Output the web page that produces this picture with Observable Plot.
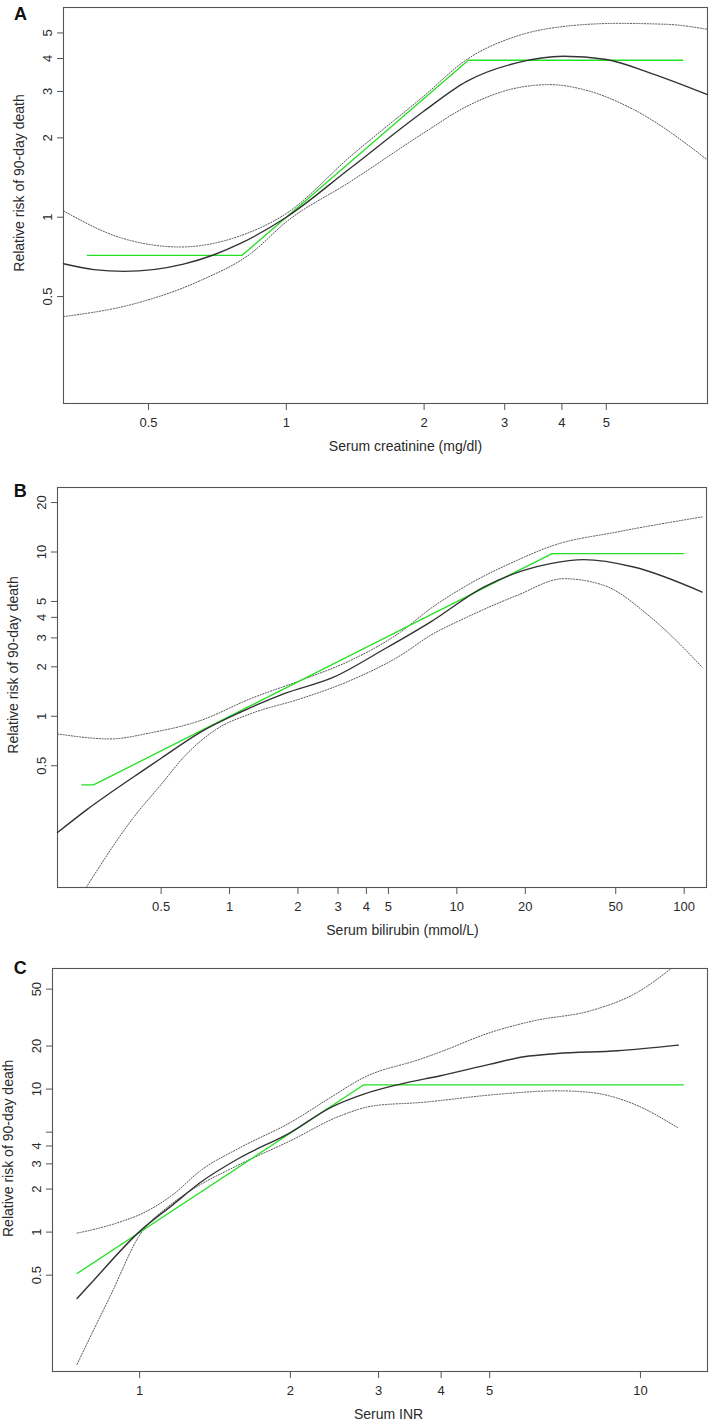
<!DOCTYPE html>
<html>
<head>
<meta charset="utf-8">
<script src="https://cdn.jsdelivr.net/npm/d3@7"></script>
<script src="https://cdn.jsdelivr.net/npm/@observablehq/plot@0.6"></script>
<style>
  body { margin: 0; background: #fff; }
  #wrap { position: relative; width: 709px; height: 1423px; background: #fff; overflow: hidden; }
  .panel { position: absolute; left: 0; }
</style>
</head>
<body>
<div id="wrap"></div>
<script>
// ---------- shared text ----------
const yTitle = "Relative risk of 90-day death";

// ---------- Panel A: serum creatinine ----------
const aLetter = "A";
const aXTitle = "Serum creatinine (mg/dl)";
const aXTicks = [0.5, 1, 2, 3, 4, 5];
const aXTickLabels = ["0.5", "1", "2", "3", "4", "5"];
const aYTicks = [0.5, 1, 2, 3, 4, 5];
const aYTickLabels = ["0.5", "1", "2", "3", "4", "5"];
const aFitX = [0.326, 0.38, 0.442, 0.596, 0.693, 0.794, 1, 1.379, 1.993, 2.478, 3.186, 4.026, 5.006, 6.22, 8.32];
const aFitY = [0.666, 0.633, 0.623, 0.664, 0.719, 0.795, 1, 1.533, 2.518, 3.277, 3.851, 4.08, 3.964, 3.527, 2.916];
const aUpperX = [0.326, 0.4335, 0.587, 0.793, 1, 1.379, 1.993, 2.478, 3.186, 4.11, 5.29, 6.8, 8.32];
const aUpperY = [1.057, 0.837, 0.771, 0.85, 1.033, 1.697, 2.873, 3.964, 4.863, 5.31, 5.436, 5.39, 5.16];
const aLowerX = [0.326, 0.4645, 0.649, 0.835, 1, 1.379, 1.993, 2.478, 3.186, 3.765, 4.47, 5.75, 8.32];
const aLowerY = [0.4196, 0.469, 0.575, 0.727, 0.96, 1.363, 2.084, 2.632, 3.093, 3.184, 3.047, 2.556, 1.649];
const aStepX = [0.3675, 0.8006, 2.498, 7.355];
const aStepY = [0.717, 0.717, 3.94, 3.94];

// ---------- Panel B: serum bilirubin ----------
const bLetter = "B";
const bXTitle = "Serum bilirubin (mmol/L)";
const bXTicks = [0.5, 1, 2, 3, 4, 5, 10, 20, 50, 100];
const bXTickLabels = ["0.5", "1", "2", "3", "4", "5", "10", "20", "50", "100"];
const bYTicks = [0.5, 1, 2, 3, 4, 5, 10, 20];
const bYTickLabels = ["0.5", "1", "2", "3", "4", "5", "10", "20"];
const bFitX = [0.175, 0.2357, 0.4477, 0.502, 0.743, 1.115, 1.729, 2.869, 4.763, 7.645, 13.12, 19.68, 25.79, 36.15, 60.0, 120];
const bFitY = [0.196, 0.27, 0.5004, 0.5575, 0.799, 1.058, 1.369, 1.729, 2.55, 3.743, 6.116, 7.735, 8.498, 8.989, 8.1, 5.703];
const bUpperX = [0.175, 0.2985, 0.4477, 0.743, 1.233, 2.047, 3.401, 5.646, 7.645, 11.09, 18.41, 26.7, 50.7, 120];
const bUpperY = [0.781, 0.728, 0.792, 0.941, 1.277, 1.651, 2.186, 3.252, 4.517, 6.27, 8.9, 10.99, 13.24, 16.35];
const bLowerX = [0.234, 0.378, 0.502, 0.627, 0.88, 1.233, 2.047, 3.401, 5.646, 7.645, 11.09, 18.41, 29.5, 44.3, 71.1, 120];
const bLowerY = [0.0907, 0.242, 0.387, 0.562, 0.838, 1.034, 1.277, 1.651, 2.345, 3.105, 4.015, 5.445, 6.88, 6.27, 4.015, 1.99];
const bStepX = [0.224, 0.252, 26.24, 99.6];
const bStepY = [0.382, 0.382, 9.78, 9.78];

// ---------- Panel C: serum INR ----------
const cLetter = "C";
const cXTitle = "Serum INR";
const cXTicks = [1, 2, 3, 4, 5, 10];
const cXTickLabels = ["1", "2", "3", "4", "5", "10"];
const cYTicks = [0.5, 1, 2, 3, 4, 5, 10, 20, 50];
const cYTickLabels = ["0.5", "1", "2", "3", "4", "", "10", "20", "50"];
const cFitX = [0.75, 0.797, 1.003, 1.169, 1.322, 1.589, 2.0, 2.405, 2.803, 3.318, 3.988, 5.018, 5.85, 6.82, 8.99, 11.9];
const cFitY = [0.3433, 0.433, 1.02, 1.57, 2.223, 3.324, 4.97, 7.43, 9.23, 10.84, 12.39, 14.95, 16.83, 17.74, 18.53, 20.31];
const cUpperX = [0.75, 0.797, 0.929, 1.003, 1.169, 1.322, 1.589, 2.0, 2.405, 2.803, 3.638, 3.988, 5.018, 6.125, 7.95, 9.85, 11.48];
const cUpperY = [0.984, 1.03, 1.2, 1.33, 1.844, 2.684, 3.905, 5.84, 8.73, 12.05, 16.21, 18.2, 24.88, 30.03, 35.3, 47.4, 69];
const cLowerX = [0.75, 0.809, 0.874, 1.003, 1.134, 1.263, 1.589, 2.0, 2.517, 2.935, 3.638, 5.255, 6.82, 7.95, 9.7, 11.85];
const cLowerY = [0.119, 0.206, 0.358, 0.968, 1.486, 1.945, 2.99, 4.35, 6.51, 7.64, 8.06, 9.23, 9.73, 9.47, 7.86, 5.39];
const cStepX = [0.75, 2.803, 12.18];
const cStepY = [0.5134, 10.72, 10.72];

// ---------- rendering ----------
const FONT = "'Liberation Sans', Arial, Helvetica, sans-serif";
const INK = "#2a2a2a";
const rows = (xs, ys) => xs.map((x, i) => ({x, y: ys[i]}));

function makePanel(p) {
  return Plot.plot({
    width: 709, height: p.height,
    marginLeft: p.ml, marginRight: p.mr, marginTop: p.mt, marginBottom: p.mb,
    style: {fontFamily: FONT, fontSize: "13px", color: INK, background: "transparent", overflow: "visible"},
    x: {type: "log", domain: p.xDomain},
    y: {type: "log", domain: p.yDomain},
    marks: [
      Plot.frame({stroke: "#555", strokeWidth: 1.1}),
      // tick marks from the library axes (labels added below so none get thinned out)
      Plot.axisX({ticks: p.xTicks, tickFormat: () => "", tickSize: 7, stroke: "#555", label: null}),
      Plot.axisY({ticks: p.yTicks, tickFormat: () => "", tickSize: 6, stroke: "#555", label: null}),
      Plot.text(p.xTicks, {x: d => d, text: (d, i) => p.xLabels[i], frameAnchor: "bottom", dy: 14, lineAnchor: "top", fill: INK}),
      Plot.text(p.yTicks, {y: d => d, text: (d, i) => p.yLabels[i], frameAnchor: "left", rotate: -90, dx: -12, textAnchor: "middle", lineAnchor: "bottom", fill: INK}),
      Plot.line(rows(p.upperX, p.upperY), {x: "x", y: "y", curve: "monotone-x", stroke: "#555", strokeWidth: 1, strokeDasharray: "1.2,1.6"}),
      Plot.line(rows(p.lowerX, p.lowerY), {x: "x", y: "y", curve: "monotone-x", stroke: "#555", strokeWidth: 1, strokeDasharray: "1.2,1.6"}),
      Plot.line(rows(p.stepX, p.stepY), {x: "x", y: "y", curve: "linear", stroke: "#22e022", strokeWidth: 1.3}),
      Plot.line(rows(p.fitX, p.fitY), {x: "x", y: "y", curve: "monotone-x", stroke: "#333", strokeWidth: 1.4}),
      Plot.text([p.xTitle], {frameAnchor: "bottom", dy: 43.5, dx: p.xTitleDx, fontSize: 14, lineAnchor: "middle", fill: INK}),
      Plot.text([yTitle], {frameAnchor: "left", rotate: -90, dx: -43.5, dy: p.yTitleDy, fontSize: 14, lineAnchor: "middle", textAnchor: "middle", fill: INK}),
      Plot.text([p.letter], {frameAnchor: "top-left", dx: p.letterDx, dy: p.letterDy, fontSize: 18, fontWeight: "bold", textAnchor: "middle", lineAnchor: "bottom", fill: "#111"})
    ]
  });
}

const panels = [
  {top: 0, height: 470, ml: 63, mr: 2, mt: 7, mb: 67,
   xDomain: [0.326, 8.32], yDomain: [0.1965, 6.245],
   xTicks: aXTicks, xLabels: aXTickLabels, yTicks: aYTicks, yLabels: aYTickLabels,
   fitX: aFitX, fitY: aFitY, upperX: aUpperX, upperY: aUpperY, lowerX: aLowerX, lowerY: aLowerY, stepX: aStepX, stepY: aStepY,
   xTitle: aXTitle, xTitleDx: 20, yTitleDy: -22.5, letter: aLetter, letterDx: -43, letterDy: 12.3},
  {top: 470, height: 470, ml: 57, mr: 3, mt: 17, mb: 53,
   xDomain: [0.175, 125.4], yDomain: [0.0907, 24.7],
   xTicks: bXTicks, xLabels: bXTickLabels, yTicks: bYTicks, yLabels: bYTickLabels,
   fitX: bFitX, fitY: bFitY, upperX: bUpperX, upperY: bUpperY, lowerX: bLowerX, lowerY: bLowerY, stepX: bStepX, stepY: bStepY,
   xTitle: bXTitle, xTitleDx: 20.5, yTitleDy: -22.5, letter: bLetter, letterDx: -37.3, letterDy: 9.7},
  {top: 940, height: 483, ml: 52, mr: 2, mt: 28, mb: 52,
   xDomain: [0.670, 13.61], yDomain: [0.106, 69.7],
   xTicks: cXTicks, xLabels: cXTickLabels, yTicks: cYTicks, yLabels: cYTickLabels,
   fitX: cFitX, fitY: cFitY, upperX: cUpperX, upperY: cUpperY, lowerX: cLowerX, lowerY: cLowerY, stepX: cStepX, stepY: cStepY,
   xTitle: cXTitle, xTitleDx: 8.5, yTitleDy: -21.7, letter: cLetter, letterDx: -32.3, letterDy: 5.3}
];

const wrap = document.getElementById("wrap");
for (const p of panels) {
  const div = document.createElement("div");
  div.className = "panel";
  div.style.top = p.top + "px";
  div.appendChild(makePanel(p));
  wrap.appendChild(div);
}
</script>
</body>
</html>
